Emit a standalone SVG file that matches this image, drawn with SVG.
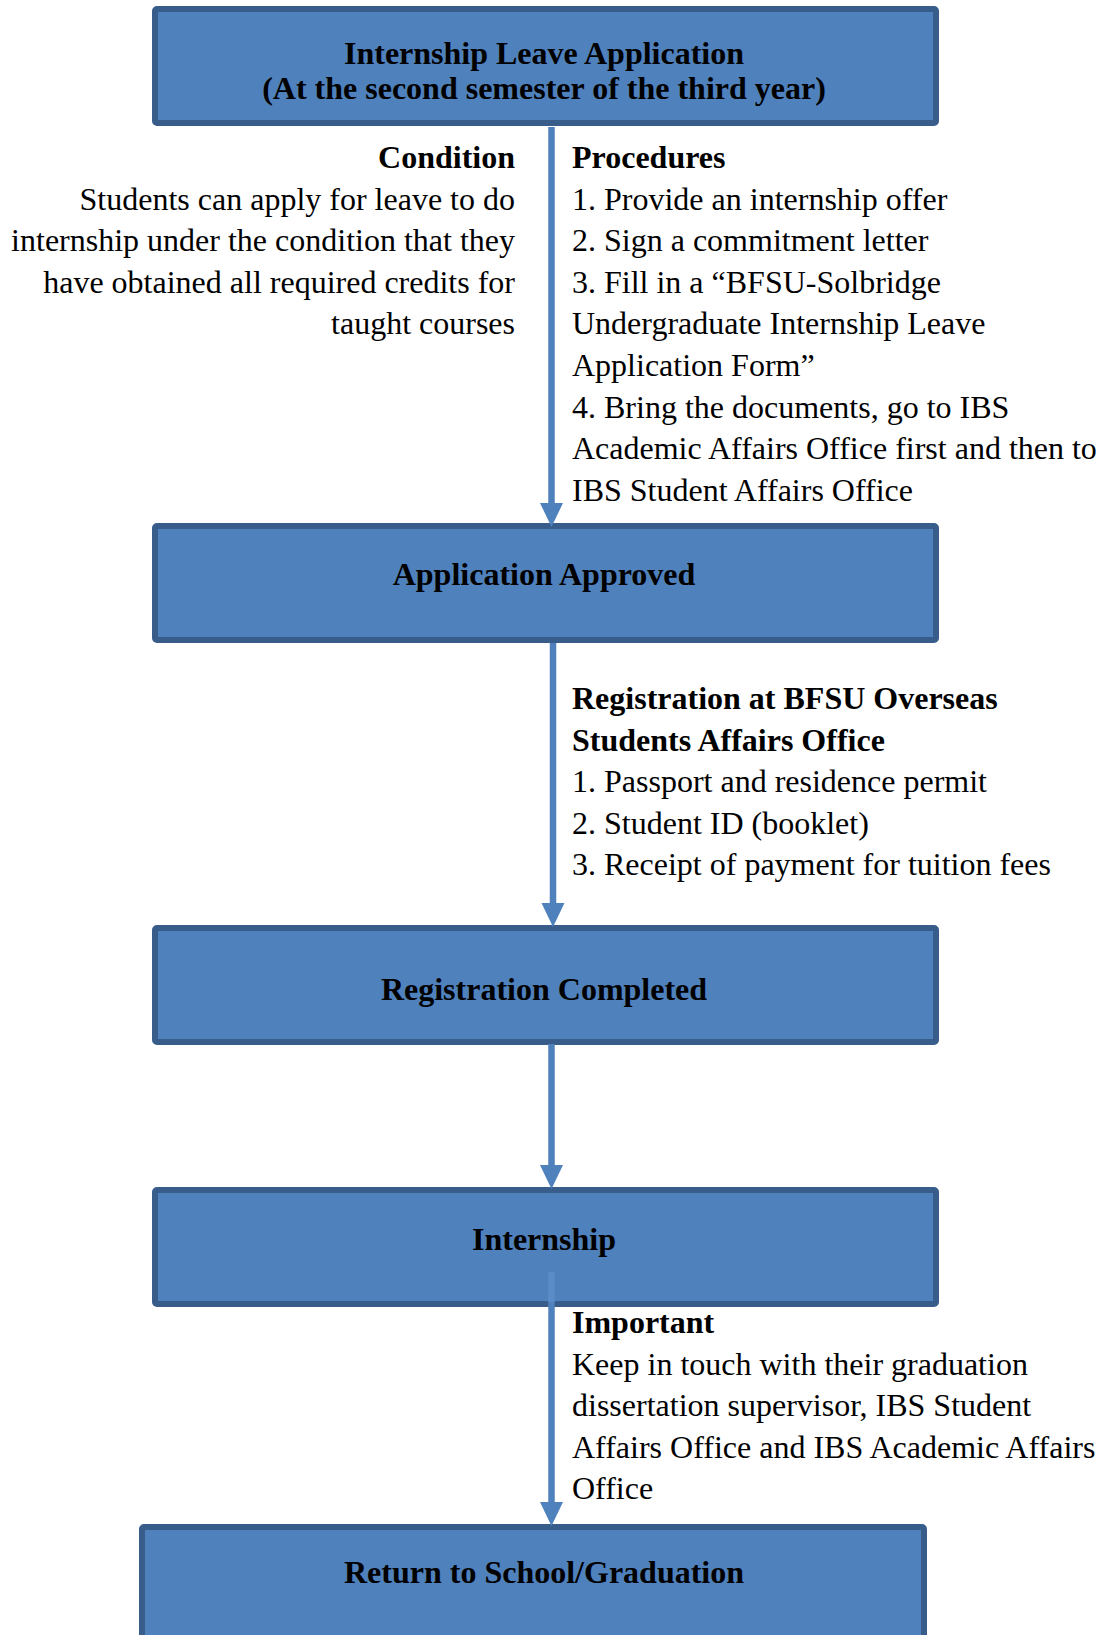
<svg xmlns="http://www.w3.org/2000/svg" width="1103" height="1635" viewBox="0 0 1103 1635">
<style>
.box{fill:#4F81BD;stroke:#385D8A;stroke-width:6}
.t{font-family:"Liberation Serif","Times New Roman",serif;font-size:32px;fill:#000}
.b{font-weight:bold}
.c{text-anchor:middle}
.r{text-anchor:end}
.shaft{stroke:#4F81BD;stroke-width:6.5;fill:none}
.inner{stroke:#5A8CC8;stroke-width:6.5;fill:none}
.head{fill:#4F81BD}
</style>
<rect width="1103" height="1635" fill="#FFFFFF"/>
<g id="node-leave-application">
<rect class="box" x="155" y="9" width="781" height="114" rx="2"/>
<text class="t b c" x="544" y="64">Internship Leave Application</text>
<text class="t b c" x="544" y="98.5">(At the second semester of the third year)</text>
</g>
<g id="node-application-approved">
<rect class="box" x="155" y="526" width="781" height="114" rx="2"/>
<text class="t b c" x="544" y="585">Application Approved</text>
</g>
<g id="node-registration-completed">
<rect class="box" x="155" y="928" width="781" height="114" rx="2"/>
<text class="t b c" x="544" y="1000">Registration Completed</text>
</g>
<g id="node-internship">
<rect class="box" x="155" y="1190" width="781" height="114" rx="2"/>
<text class="t b c" x="544" y="1250">Internship</text>
</g>
<g id="node-return">
<rect class="box" x="142" y="1527" width="782" height="130" rx="2"/>
<text class="t b c" x="544" y="1583">Return to School/Graduation</text>
</g>
<g id="connectors">
<line class="shaft" x1="551.5" y1="127" x2="551.5" y2="506"/>
<polygon class="head" points="540,503 563,503 551.5,527"/>
<line class="shaft" x1="553" y1="643" x2="553" y2="906"/>
<polygon class="head" points="541.5,903 564.5,903 553,927"/>
<line class="shaft" x1="551.5" y1="1044" x2="551.5" y2="1168"/>
<polygon class="head" points="540,1165 563,1165 551.5,1189"/>
<line class="inner" x1="551.5" y1="1272" x2="551.5" y2="1302"/>
<line class="shaft" x1="551.5" y1="1302" x2="551.5" y2="1505"/>
<polygon class="head" points="540,1502 563,1502 551.5,1526"/>
</g>
<g id="label-condition">
<text class="t b r" x="515" y="168">Condition</text>
<text class="t r" x="515" y="209.6">Students can apply for leave to do</text>
<text class="t r" x="515" y="251.2">internship under the condition that they</text>
<text class="t r" x="515" y="292.8">have obtained all required credits for</text>
<text class="t r" x="515" y="334.4">taught courses</text>
</g>
<g id="label-procedures">
<text class="t b" x="572" y="168">Procedures</text>
<text class="t" x="572" y="209.6">1. Provide an internship offer</text>
<text class="t" x="572" y="251.2">2. Sign a commitment letter</text>
<text class="t" x="572" y="292.8">3. Fill in a “BFSU-Solbridge</text>
<text class="t" x="572" y="334.4">Undergraduate Internship Leave</text>
<text class="t" x="572" y="376">Application Form”</text>
<text class="t" x="572" y="417.6">4. Bring the documents, go to IBS</text>
<text class="t" x="572" y="459.2">Academic Affairs Office first and then to</text>
<text class="t" x="572" y="500.8">IBS Student Affairs Office</text>
</g>
<g id="label-registration">
<text class="t b" x="572" y="709">Registration at BFSU Overseas</text>
<text class="t b" x="572" y="750.6">Students Affairs Office</text>
<text class="t" x="572" y="792.2">1. Passport and residence permit</text>
<text class="t" x="572" y="833.8">2. Student ID (booklet)</text>
<text class="t" x="572" y="875.4">3. Receipt of payment for tuition fees</text>
</g>
<g id="label-important">
<text class="t b" x="572" y="1333">Important</text>
<text class="t" x="572" y="1374.6">Keep in touch with their graduation</text>
<text class="t" x="572" y="1416.2">dissertation supervisor, IBS Student</text>
<text class="t" x="572" y="1457.8">Affairs Office and IBS Academic Affairs</text>
<text class="t" x="572" y="1499.4">Office</text>
</g>
</svg>
